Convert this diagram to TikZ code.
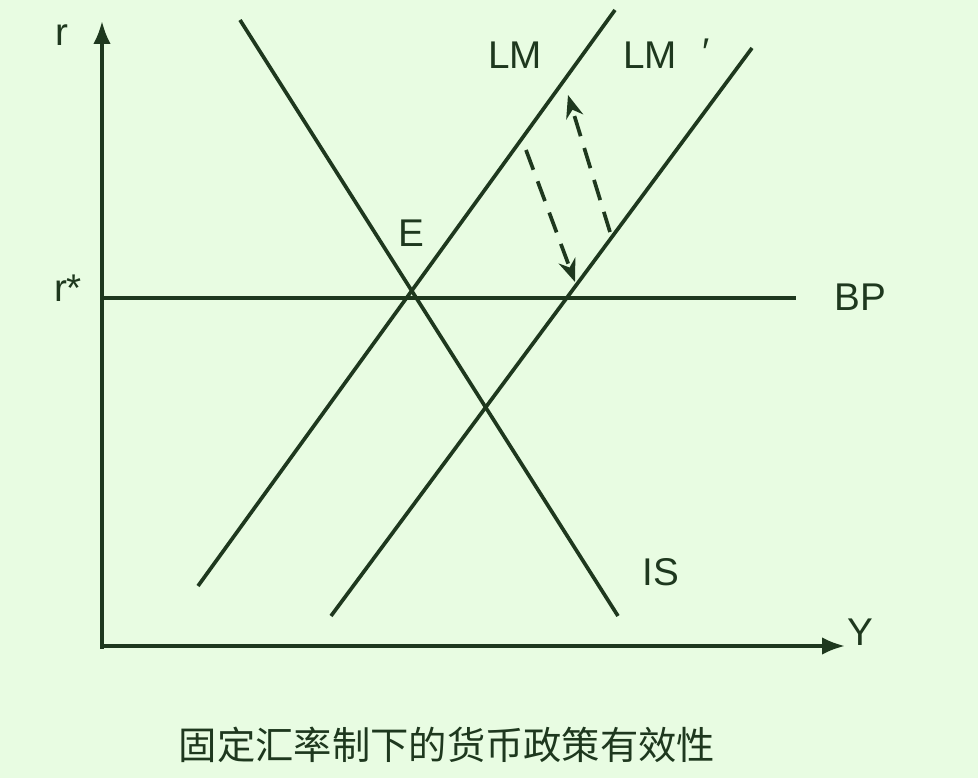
\documentclass[tikz,border=0pt]{standalone}
\usepackage{fontspec}
\usetikzlibrary{arrows.meta}
\setmainfont{Liberation Sans}
\newfontfamily\cjk{Noto Sans CJK SC}
\definecolor{bgreen}{RGB}{232,252,226}
\definecolor{dgreen}{RGB}{30,56,30}
\begin{document}
\begin{tikzpicture}[>={Stealth[length=13pt,width=10pt]},line width=2.1pt,dgreen,
	lbl/.style={text=dgreen,font=\fontsize{22}{26}\selectfont},
	axis/.style={-{Latex[length=13pt,width=10pt]}},
	lmshift/.style={->,dash pattern=on 12pt off 7pt}]
		\fill[bgreen] (0,0) rectangle (19.56,15.56);
		\useasboundingbox (0,0) rectangle (19.56,15.56);
		% axes
		\coordinate (O) at (2.04,2.64);
		\draw[axis] (2.04,2.58)--(2.04,15.14);
		\draw[axis] (2.00,2.64)--(16.9,2.64);
		\node[lbl] (ry) at (17.2,2.92) {Y};
		\node[lbl] (rs) at (1.36,9.8) {r*};
		% curves
		\coordinate (bp1) at (2.04,9.6);
		\coordinate (bp2) at (15.92,9.6);
		\coordinate (is1) at (4.8,15.16);
		\coordinate (is2) at (12.36,3.24);
		\coordinate (lm1) at (3.96,3.84);
		\coordinate (lm2) at (12.3,15.36);
		\coordinate (lmp1) at (6.62,3.24);
		\coordinate (lmp2) at (15.04,14.6);
		\draw (bp1)--(bp2);
		\draw (is1)--(is2);
		\draw (lm1)--(lm2);
		\draw (lmp1)--(lmp2);
		% shift of LM
		\coordinate (d1) at (10.52,12.56);
		\coordinate (d2) at (11.5,9.92);
		\coordinate (d3) at (12.2,10.92);
		\coordinate (d4) at (11.36,13.66);
		\draw[lmshift] (d1)--(d2);
		\draw[lmshift] (d3)--(d4);
		% labels
		\node[lbl] (rr) at (1.24,14.86) {r};
		\node[lbl] (lm) at (10.3,14.46) {LM};
		\node[lbl] (lmp) at (13.0,14.46) {LM};
		\node[lbl] (pr) at (14.12,14.52) {′};
		\node[lbl] (e) at (8.22,10.9) {E};
		\node[lbl] (bp) at (17.2,9.62) {BP};
		\node[lbl] (is) at (13.22,4.12) {IS};
		\node[text=dgreen,font=\cjk\fontsize{21.8}{26}\selectfont] (cap) at (8.94,0.66) {固定汇率制下的货币政策有效性};
	\end{tikzpicture}
\end{document}
